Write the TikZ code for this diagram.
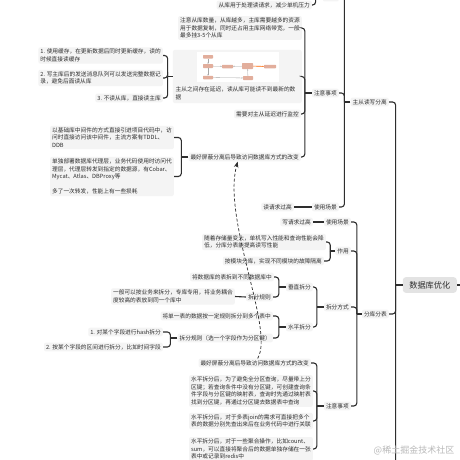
\documentclass[tikz,border=0pt]{standalone}
\usepackage{fontspec}
\setmainfont{Noto Sans CJK SC}
\usetikzlibrary{arrows.meta}

\definecolor{boxgray}{HTML}{F4F4F4}
\definecolor{rootgray}{HTML}{E3E3E3}
\definecolor{ink}{HTML}{2E2E2E}
\definecolor{salmon}{HTML}{E2AE9C}

\begin{document}
\begin{tikzpicture}[
    x=1pt, y=-1pt,
    >=Stealth,
    font=\fontsize{5.7}{7.6}\selectfont,
    text=ink,
    topic/.style={fill=boxgray, rounded corners=2pt, inner xsep=2pt, inner ysep=1.7pt, anchor=east, align=left},
    link/.style={draw=ink, line width=1.1pt, rounded corners=3pt},
    minibox/.style={fill=salmon, rounded corners=0.6pt, inner sep=0pt},
    miniarrow/.style={draw=gray!70, line width=0.3pt, -{Stealth[length=1.3pt,width=1.3pt]}},
  ]

  \useasboundingbox (0,0) rectangle (460,460);
  \fill[white] (0,0) rectangle (460,460);
  \clip (0,0) rectangle (460,460);

  % ============================================================
  % root
  % ============================================================
  \node[topic, fill=rootgray, rounded corners=3pt, inner xsep=6.5pt, inner ysep=4pt,
        font=\fontsize{8.2}{10}\selectfont] (root) at (457,285) {数据库优化};
  \coordinate (up) at (470,285);
  \coordinate (more) at (389,640);

  \node[topic] (ms) at (389,102) {主从读写分离};
  \node[topic] (fkfb) at (389,314) {分库分表};

  % ============================================================
  % 主从读写分离
  % ============================================================
  \node[topic, minimum width=16pt, minimum height=9pt] (zytop) at (339,-3) {};
  \node[topic] (zytext) at (312,5) {从库用于处理读请求，减少单机压力};

  \node[topic] (zysx1) at (339,93) {注意事项};
  \node[topic] (n1) at (302,28)
    {注意从库数量，从库越多，主库需要越多的资源\\用于数据复制，同时还占用主库网络带宽，一般\\最多挂3-5个从库};

  % picture node with caption
  \node[topic, minimum width=129pt, minimum height=53pt] (img) at (302,76.5) {};
  \fill[white] (197,52) rectangle (279,82);
  \node[minibox, minimum width=10pt, minimum height=3.5pt] (m1) at (208,56.8) {};
  \node[minibox, minimum width=10pt, minimum height=4pt] (m2) at (208,66) {};
  \node[minibox, minimum width=11pt, minimum height=3.5pt] (m3) at (227.5,66.5) {};
  \node[minibox, minimum width=11pt, minimum height=6pt] (m4) at (247.5,66) {};
  \node[minibox, minimum width=12pt, minimum height=3.5pt] (m5) at (270,66.5) {};
  \node[minibox, minimum width=10pt, minimum height=3.5pt] (m6) at (208,77.5) {};
  \node[minibox, minimum width=10pt, minimum height=4pt] (m7) at (248,78) {};
  \draw[miniarrow] (m1) -- (m2);
  \draw[miniarrow] (m2) -- (m3);
  \draw[miniarrow] (m4) -- (m3);
  \draw[miniarrow] (m2) -- (m6);
  \draw[miniarrow] (m6) -- (m7);
  \draw[miniarrow] (m7) -- (m4);
  \draw[miniarrow, draw=orange!80!red, line width=0.6pt] (m4) -- (m5);
  \node[anchor=west, align=left, inner sep=0pt] (imgcap) at (175.5,93.5)
    {主从之间存在延迟，读从库可能读不到最新的数\\据};

  \node[topic] (c1) at (163,55.5) {1. 使用缓存，在更新数据后同时更新缓存，读的\\时候直接读缓存};
  \node[topic] (c2) at (163,78) {2. 写主库后的发送消息队列可以发送完整数据记\\录，避免后面读从库};
  \node[topic] (c3) at (163,98) {3. 不读从库，直接读主库};

  \node[topic] (jk) at (301,114) {需要对主从延迟进行监控};
  \node[topic] (fb1) at (301,157) {最好屏蔽分离后导致访问数据库方式的改变};
  \node[topic] (tddl) at (174,137.5)
    {以基础库中间件的方式直接引进项目代码中，访\\问时直接访问该中间件，主流方案有TDDL、\\DDB};
  \node[topic] (proxy) at (174,176.5)
    {单独部署数据库代理层，业务代码使用时访问代\\理层，代理层转发到指定的数据源，有Cobar、\\Mycat、Atlas、DBProxy等\\[7.6pt]多了一次转发，性能上有一些损耗};

  \node[topic] (syc1) at (339,207) {使用场景};
  \node[topic] (dq1) at (294,207) {读请求过高};

  % ============================================================
  % 分库分表
  % ============================================================
  \node[topic] (syc2) at (351,222) {使用场景};
  \node[topic] (dq2) at (313,222) {写请求过高};

  \node[topic] (zy2) at (351,251) {作用};
  \node[topic] (sui) at (326,242) {随着存储量变大，单机写入性能和查询性能会降\\低，分库分表能提高读写性能};
  \node[topic] (amk) at (324,261) {按模块分库，实现不同模块的故障隔离};

  \node[topic] (cffs) at (351,307) {拆分方式};
  \node[topic] (czcf) at (313,287) {垂直拆分};
  \node[topic] (jsk) at (274,277) {将数据库的表拆到不同数据库中};
  \node[topic] (cfgz1) at (273,297) {拆分规则};
  \node[topic] (ybk) at (235,296.5) {一般可以按业务来拆分，专库专用，将业务耦合\\度较高的表放到同一个库中};

  \node[topic] (spcf) at (313,327) {水平拆分};
  \node[topic] (dyb) at (273,316) {将单一表的数据按一定规则拆分到多个表中};
  \node[topic] (cfgz2) at (273,338) {拆分规则（选一个字段作为分区键）};
  \node[topic] (hash) at (163,332) {1. 对某个字段进行hash拆分};
  \node[topic] (qj) at (163,347) {2. 按某个字段的区间进行拆分，比如时间字段};

  \node[topic] (zysx2) at (351,406) {注意事项};
  \node[topic] (fb2) at (311,363) {最好屏蔽分离后导致访问数据库方式的改变};
  \node[topic] (sp1) at (313,391)
    {水平拆分后，为了避免全分区查询，尽量带上分\\区键；若查询条件中没有分区键，可创建查询条\\件字段与分区键的映射表，查询时先通过映射表\\找到分区键，再通过分区键去数据表中查询};
  \node[topic] (sp2) at (313,421)
    {水平拆分后，对于多表join的需求可直接把多个\\表的数据分别先查出来后在业务代码中进行关联};
  \node[topic] (sp3) at (313,449)
    {水平拆分后，对于一些聚合操作，比如count、\\sum，可以直接将聚合后的数据单独存储在一张\\表中或记录到redis中};

  % ============================================================
  % connectors
  % ============================================================
  \draw[link] (root.east) -- (up);
  \draw[link] (root.west) -- ++(-7,0) coordinate (rb);
  \foreach \c in {ms, fkfb} \draw[link] (rb) |- (\c.east);
  \draw[link] (rb) |- (more);

  \draw[link] (ms.west) -- ++(-6,0) coordinate (msb);
  \foreach \c in {zytop, zysx1, syc1} \draw[link] (msb) |- (\c.east);
  \draw[link] (zytop.west) -- ++(-7,0) |- (zytext.east);

  \draw[link] (zysx1.west) -- ++(-7,0) coordinate (zb1);
  \foreach \c in {n1, img, jk, fb1} \draw[link] (zb1) |- (\c.east);
  \draw[link] (img.west) -- ++(-5,0) coordinate (ib);
  \foreach \c in {c1, c2, c3} \draw[link] (ib) |- (\c.east);
  \draw[link] (fb1.west) -- ++(-7,0) coordinate (fb);
  \foreach \c in {tddl, proxy} \draw[link] (fb) |- (\c.east);
  \draw[link] (syc1.west) -- (dq1.east);

  \draw[link] (fkfb.west) -- ++(-5,0) coordinate (fkb);
  \foreach \c in {syc2, zy2, cffs, zysx2} \draw[link] (fkb) |- (\c.east);
  \draw[link] (syc2.west) -- (dq2.east);
  \draw[link] (zy2.west) -- ++(-5,0) coordinate (zyb);
  \foreach \c in {sui, amk} \draw[link] (zyb) |- (\c.east);
  \draw[link] (cffs.west) -- ++(-7,0) coordinate (cfb);
  \foreach \c in {czcf, spcf} \draw[link] (cfb) |- (\c.east);
  \draw[link] (czcf.west) -- ++(-7,0) coordinate (czb);
  \foreach \c in {jsk, cfgz1} \draw[link] (czb) |- (\c.east);
  \draw[link] (cfgz1.west) -- (ybk.east);
  \draw[link] (spcf.west) -- ++(-7,0) coordinate (spb);
  \foreach \c in {dyb, cfgz2} \draw[link] (spb) |- (\c.east);
  \draw[link] (cfgz2.west) -- ++(-7,0) coordinate (gzb);
  \foreach \c in {hash, qj} \draw[link] (gzb) |- (\c.east);
  \draw[link] (zysx2.west) -- ++(-7,0) coordinate (z2b);
  \foreach \c in {fb2, sp1, sp2, sp3} \draw[link] (z2b) |- (\c.east);

  % relation between the two 最好屏蔽 topics
  \draw[ink, line width=0.7pt, dash pattern=on 3pt off 2pt, ->]
    ([xshift=3pt]fb2.north) .. controls (275,330) and (222,220) .. ([xshift=-7pt]fb1.south);

  % watermark
  \node[text=gray!55, font=\fontsize{9}{10}\selectfont] (wm) at (414,450) {@稀土掘金技术社区};

\end{tikzpicture}
\end{document}
